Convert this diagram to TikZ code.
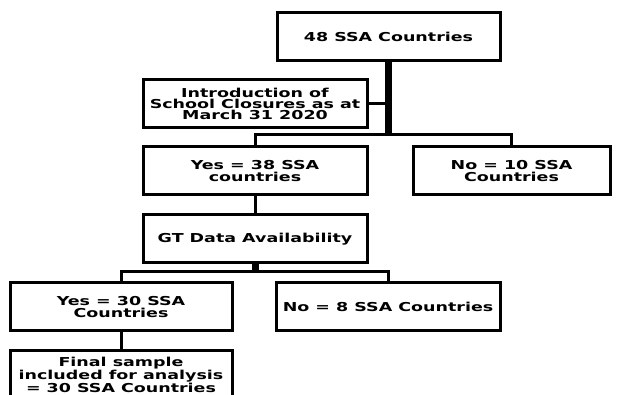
\documentclass[tikz,border=0pt]{standalone}
\usepackage{fontspec}
\usepackage{tikz}
\newfontfamily\boxfont[FakeStretch=1.42]{DejaVu Sans}

\begin{document}
\begin{tikzpicture}[x=1pt,y=-1pt,
    box/.style={
        draw,
        line width=3pt,
        align=center,
        inner sep=0pt,
        minimum height=48pt,
        font=\boxfont\bfseries\fontsize{12.3}{11.4}\selectfont
        },
    link/.style={line width=3pt},
    stem/.style={line width=7pt}
    ]
    \useasboundingbox (0,0) rectangle (627,395);

    % Boxes:
    % placed at the centres measured on the flow chart
    \node[box,minimum width=223pt] (all)   at (388.5,37) {48 SSA Countries};
    \node[box,minimum width=224pt] (intro) at (255,104)  {Introduction of\\School Closures as at\\March 31 2020};
    \node[box,minimum width=224pt] (yesA)  at (255,171)  {Yes = 38 SSA\\countries};
    \node[box,minimum width=197pt] (noA)   at (511.5,171) {No = 10 SSA\\Countries};
    \node[box,minimum width=224pt] (gt)    at (255,239)  {GT Data Availability};
    \node[box,minimum width=222pt] (yesB)  at (121,307)  {Yes = 30 SSA\\Countries};
    \node[box,minimum width=224pt] (noB)   at (388,307)  {No = 8 SSA Countries};
    \node[box,minimum width=222pt] (final) at (121,375)  {Final sample\\included for analysis\\= 30 SSA Countries};

    % Branch points:
    \coordinate (forkA) at (all.south |- 0,135);
    \coordinate (forkB) at (gt.south |- 0,272);

    % Connectors:
    % thick stems down to the forks, thin lines out to the boxes
    \draw[stem] (all.south) -- (forkA);
    \draw[link] (intro.east) -- (intro.east -| forkA);
    \draw[link] (yesA.north) |- (forkA) -| (noA.north);
    \draw[link] (yesA.south) -- (gt.north);
    \draw[stem] (gt.south) -- (forkB);
    \draw[link] (yesB.north) |- (forkB) -| (noB.north);
    \draw[link] (yesB.south) -- (final.north);
\end{tikzpicture}
\end{document}
